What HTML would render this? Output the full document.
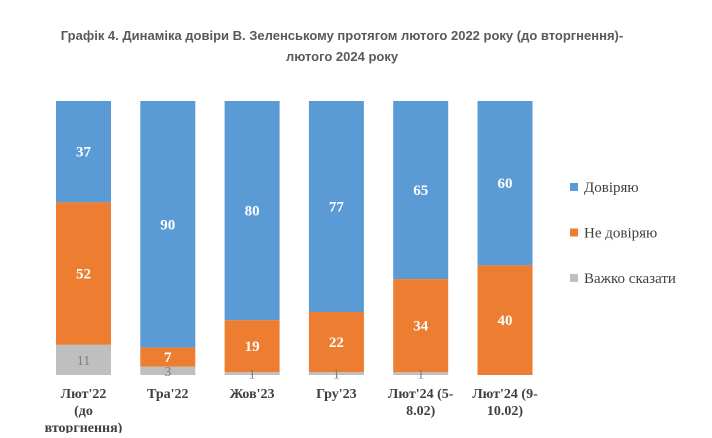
<!DOCTYPE html>
<html><head><meta charset="utf-8"><style>
body{margin:0;background:#fff;width:712px;height:433px;overflow:hidden}
svg text{font-family:"Liberation Serif",serif}
</style></head><body>
<svg id="c" width="712" height="433">
<text x="342" y="40" text-anchor="middle" font-size="13" font-weight="bold" fill="#595959" style="font-family:'Liberation Sans',sans-serif">Графік 4. Динаміка довіри В. Зеленському протягом лютого 2022 року (до вторгнення)-</text>
<text x="342" y="61" text-anchor="middle" font-size="13" font-weight="bold" fill="#595959" style="font-family:'Liberation Sans',sans-serif">лютого 2024 року</text>
<g id="bars"></g>
<g id="legend"></g>
</svg>
<script>
const categories=[["Лют'22","(до","вторгнення)"],["Тра'22"],["Жов'23"],["Гру'23"],["Лют'24 (5-","8.02)"],["Лют'24 (9-","10.02)"]];
const trust=[37,90,80,77,65,60];
const distrust=[52,7,19,22,34,40];
const hard=[11,3,1,1,1,0];
const seriesNames=["Довіряю","Не довіряю","Важко сказати"];
const colors=["#5b9bd5","#ed7d31","#bfbfbf"];
const ns="http://www.w3.org/2000/svg";
const top0=101,bottom0=375,x0=56,step=84.3,bw=55;
const y=v=>top0+(bottom0-top0)*v/100;
const g=document.getElementById('bars');
function mk(t,a){const e=document.createElementNS(ns,t);for(const k in a)e.setAttribute(k,a[k]);return e;}
const series=[trust,distrust,hard];
categories.forEach((cat,i)=>{
  const x=x0+i*step;let acc=0;
  series.forEach((s,j)=>{
    const v=s[i];if(v<=0)return;
    const r=mk('rect',{x:x,y:y(acc),width:bw,height:y(acc+v)-y(acc),fill:colors[j]});
    
    
    g.appendChild(r);
    const mid=(y(acc)+y(acc+v))/2;
    const t=mk('text',{x:x+bw/2,y:mid+5,'text-anchor':'middle','font-size':j==2?14:15,'font-weight':j==2?'normal':'bold',fill:j==2?'#7f7f7f':'#fff'});
    t.textContent=v;
    
    
    g.appendChild(t);
    acc+=v;
  });
  cat.forEach((line,k)=>{
    const t=mk('text',{x:x+bw/2,y:398+k*17,'text-anchor':'middle','font-size':14,'font-weight':'bold',fill:'#404040'});
    t.textContent=line;
    
    
    g.appendChild(t);
  });
});
const lg=document.getElementById('legend');
seriesNames.forEach((n,j)=>{
  const yy=188+j*45.5;
  const r=mk('rect',{x:570,y:yy-5,width:8,height:8,fill:colors[j]});
  
  
  lg.appendChild(r);
  const t=mk('text',{x:584,y:yy+4,'font-size':15,fill:'#404040'});
  t.textContent=n;
  
  
  lg.appendChild(t);
});
</script>
</body></html>
